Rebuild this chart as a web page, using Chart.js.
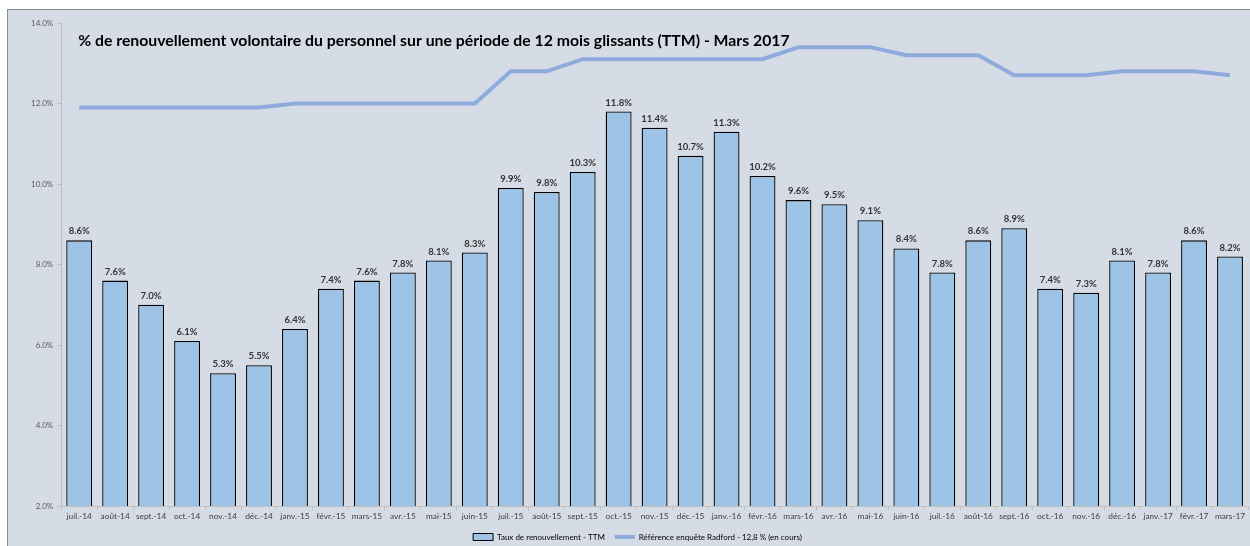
<!DOCTYPE html>
<html lang="fr">
<head>
<meta charset="utf-8">
<title>Renouvellement volontaire du personnel</title>
<script src="https://cdn.jsdelivr.net/npm/chart.js"></script>
<style>
  html, body { margin: 0; padding: 0; background: #fff; overflow: hidden; }
  .frame {
    position: absolute; left: 7px; top: 9px; right: 0; bottom: 0;
    border-top: 1px solid #8c8c8c; border-left: 1px solid #8c8c8c;
    background: #d6dce5;
  }
  canvas { display: block; }
</style>
</head>
<body>
<div class="frame">
  <canvas id="turnoverChart" width="1242" height="536"></canvas>
</div>

<script>
  // Chart data
  const months = [
    "juil.-14", "août-14", "sept.-14", "oct.-14", "nov.-14", "déc.-14",
    "janv.-15", "févr.-15", "mars-15", "avr.-15", "mai-15", "juin-15",
    "juil.-15", "août-15", "sept.-15", "oct.-15", "nov.-15", "déc.-15",
    "janv.-16", "févr.-16", "mars-16", "avr.-16", "mai-16", "juin-16",
    "juil.-16", "août-16", "sept.-16", "oct.-16", "nov.-16", "déc.-16",
    "janv.-17", "févr.-17", "mars-17"
  ];
  const turnoverRates = [
    8.6, 7.6, 7.0, 6.1, 5.3, 5.5,
    6.4, 7.4, 7.6, 7.8, 8.1, 8.3,
    9.9, 9.8, 10.3, 11.8, 11.4, 10.7,
    11.3, 10.2, 9.6, 9.5, 9.1, 8.4,
    7.8, 8.6, 8.9, 7.4, 7.3, 8.1,
    7.8, 8.6, 8.2
  ];
  const radfordReference = [
    11.9, 11.9, 11.9, 11.9, 11.9, 11.9,
    12.0, 12.0, 12.0, 12.0, 12.0, 12.0,
    12.8, 12.8, 13.1, 13.1, 13.1, 13.1,
    13.1, 13.1, 13.4, 13.4, 13.4, 13.2,
    13.2, 13.2, 12.7, 12.7, 12.7, 12.8,
    12.8, 12.8, 12.7
  ];
  const seriesNames = [
    "Taux de renouvellement - TTM",
    "Référence enquête Radford - 12,8 % (en cours)"
  ];
  const titleText = "% de renouvellement volontaire du personnel sur une période de 12 mois glissants (TTM) - Mars 2017";
  const yMin = 2;
  const yMax = 14;
  const yStep = 2;

  const barColor = "#9dc3e6";
  const lineColor = "#8faadc";
  const axisColor = "#bfbfbf";
  const fontFamily = "Lato, 'Open Sans', sans-serif";

  // values written above each bar
  const barValueLabels = {
    id: "barValueLabels",
    afterDatasetsDraw(chart) {
      const ctx = chart.ctx;
      const meta = chart.getDatasetMeta(0);
      ctx.save();
      ctx.font = "bold 9.5px " + fontFamily;
      ctx.fillStyle = "#333";
      ctx.textAlign = "center";
      ctx.textBaseline = "middle";
      meta.data.forEach((bar, i) => {
        ctx.fillText(turnoverRates[i].toFixed(1) + "%", bar.x, bar.y - 9);
      });
      ctx.restore();
    }
  };

  // Excel puts the title inside the plot area
  const insideTitle = {
    id: "insideTitle",
    afterDraw(chart) {
      const { ctx, chartArea } = chart;
      ctx.save();
      ctx.font = "bold 15.8px " + fontFamily;
      ctx.fillStyle = "#000";
      ctx.textBaseline = "middle";
      ctx.fillText(titleText, chartArea.left + 17, chartArea.top + 18);
      ctx.restore();
    }
  };

  new Chart(document.getElementById("turnoverChart"), {
    type: "bar",
    data: {
      labels: months,
      datasets: [
        {
          label: seriesNames[0],
          data: turnoverRates,
          backgroundColor: barColor,
          borderColor: "#000",
          borderWidth: 1.3,
          barPercentage: 0.72,
          categoryPercentage: 1
        },
        {
          type: "line",
          label: seriesNames[1],
          data: radfordReference,
          borderColor: lineColor,
          borderWidth: 4,
          pointRadius: 0,
          tension: 0,
          fill: false
        }
      ]
    },
    options: {
      responsive: false,
      animation: false,
      layout: {
        padding: { left: 19, right: 2, top: 13, bottom: -5 }
      },
      scales: {
        x: {
          grid: {
            drawOnChartArea: false,
            color: axisColor,
            tickLength: 4
          },
          border: { color: axisColor },
          ticks: {
            autoSkip: false,
            maxRotation: 0,
            padding: 1.5,
            color: "#404040",
            font: { family: fontFamily, size: 8.3 }
          }
        },
        y: {
          min: yMin,
          max: yMax,
          grid: {
            drawOnChartArea: false,
            color: axisColor,
            tickLength: 4
          },
          border: { color: axisColor },
          ticks: {
            stepSize: yStep,
            padding: 4,
            color: "#595959",
            font: { family: fontFamily, size: 8 },
            callback: (v) => v.toFixed(1) + "%"
          }
        }
      },
      plugins: {
        tooltip: { enabled: false },
        legend: {
          position: "bottom",
          labels: {
            usePointStyle: true,
            pointStyleWidth: 20,
            boxHeight: 7,
            padding: 10,
            color: "#404040",
            font: { family: fontFamily, size: 8 },
            generateLabels: () => [
              {
                text: seriesNames[0], fillStyle: barColor, strokeStyle: "#000",
                lineWidth: 1, pointStyle: "rect", datasetIndex: 0
              },
              {
                text: seriesNames[1], fillStyle: lineColor, strokeStyle: lineColor,
                lineWidth: 4, pointStyle: "line", datasetIndex: 1
              }
            ]
          }
        }
      }
    },
    plugins: [barValueLabels, insideTitle]
  });
</script>
</body>
</html>
